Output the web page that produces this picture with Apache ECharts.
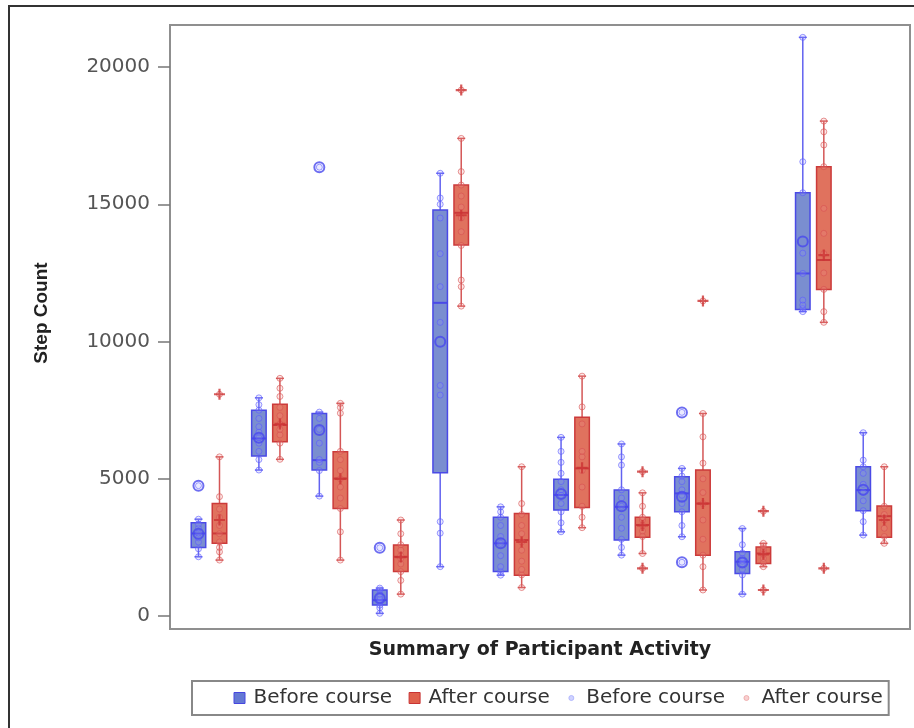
<!DOCTYPE html>
<html>
<head>
<meta charset="utf-8">
<script src="https://cdn.jsdelivr.net/npm/echarts@6/dist/echarts.min.js"></script>
<style>
html, body { margin: 0; padding: 0; background: #fff; }
#chart { width: 914px; height: 728px; }
</style>
</head>
<body>
<div id="chart"></div>
<script>
// one entry per participant group
var groups = [1, 2, 3, 4, 5, 6, 7, 8, 9, 10, 11, 12];

// [low whisker, q1, median, q3, high whisker]
var beforeBox = [
	[2160, 2500, 3010, 3400, 3530],
	[5320, 5830, 6470, 7500, 7950],
	[4370, 5320, 5680, 7380, 7430],
	[100, 400, 580, 950, 1020],
	[1800, 5220, 11410, 14790, 16130],
	[1490, 1620, 2650, 3600, 3980],
	[3070, 3860, 4410, 4980, 6510],
	[2220, 2770, 3980, 4590, 6270],
	[2890, 3800, 4470, 5080, 5380],
	[800, 1550, 1980, 2340, 3190],
	[11090, 11170, 12480, 15420, 21080],
	[2950, 3840, 4590, 5440, 6680]
];
var afterBox = [
	[2040, 2650, 3010, 4100, 5800],
	[5710, 6350, 6960, 7720, 8660],
	[2040, 3920, 5010, 5990, 7750],
	[800, 1620, 2160, 2590, 3500],
	[11290, 13520, 14690, 15700, 17400],
	[1040, 1490, 2770, 3740, 5440],
	[3220, 3960, 5380, 7240, 8740],
	[2280, 2870, 3320, 3600, 4490],
	[950, 2220, 4100, 5320, 7380],
	[1800, 1920, 2280, 2520, 2650],
	[10700, 11900, 12970, 16370, 18030],
	[2650, 2870, 3640, 4010, 5440]
];

var beforeMean = [3000, 6500, 6780, 650, 9990, 2650, 4450, 4000, 4350, 1950, 13640, 4600];
var afterMean = [3500, 7000, 5000, 2150, 14600, 2700, 5400, 3300, 4100, 2250, 13150, 3500];

var beforeOutliers = [[4750], [], [16350], [2490], [], [], [], [], [7420, 1960], [], [], []];
var afterOutliers = [[8080], [], [], [], [19160], [], [], [5260, 1740], [11480], [3820, 950], [1740], []];

var beforePoints = [
	[2160, 2450, 2700, 2850, 3020, 3200, 3350, 3530, 4750],
	[5320, 5700, 6000, 6300, 6500, 6700, 6900, 7200, 7500, 7700, 7950],
	[4370, 5300, 5600, 5700, 6300, 6800, 7200, 7430, 16350],
	[100, 300, 400, 500, 600, 700, 800, 950, 1020, 2490],
	[1800, 3020, 3440, 8050, 8400, 10700, 12000, 13200, 14500, 15000, 15230, 16130],
	[1490, 1620, 1800, 2200, 2650, 2900, 3300, 3600, 3800, 3980],
	[3070, 3400, 3800, 4100, 4400, 4600, 4900, 5200, 5600, 6000, 6510],
	[2220, 2500, 2800, 3200, 3600, 4000, 4300, 4600, 5500, 5800, 6270],
	[1960, 2890, 3300, 3800, 4100, 4400, 4600, 4900, 5100, 5380, 7420],
	[800, 1500, 1700, 1900, 2000, 2100, 2300, 2600, 3190],
	[11090, 11200, 11330, 11510, 12480, 13220, 15420, 16550, 21080],
	[2950, 3440, 3840, 4200, 4500, 4800, 5200, 5440, 5680, 6680]
];
var afterPoints = [
	[2040, 2340, 2500, 2700, 3000, 3300, 3600, 3900, 4350, 5800, 8080],
	[5710, 6300, 6600, 6800, 7000, 7300, 7600, 8000, 8300, 8660],
	[2040, 3070, 3920, 4300, 4700, 5000, 5300, 5700, 6000, 7390, 7600, 7750],
	[800, 1300, 1620, 1900, 2100, 2200, 2400, 2600, 3000, 3500],
	[11290, 12000, 12240, 13500, 14000, 14500, 14900, 15300, 15700, 16190, 17400, 19160],
	[1040, 1500, 1700, 2000, 2400, 2700, 3000, 3300, 3700, 4100, 5440],
	[3220, 3600, 4000, 4700, 5300, 5800, 6000, 7000, 7620, 8740],
	[1740, 2280, 2900, 3100, 3300, 3500, 3600, 4000, 4490, 5260],
	[950, 1800, 2220, 2800, 3500, 4100, 4500, 5000, 5570, 6530, 7380, 11480],
	[950, 1800, 1950, 2100, 2250, 2350, 2450, 2550, 2650, 3820],
	[1740, 10700, 11090, 11900, 12500, 13200, 13940, 14850, 16370, 17160, 17640, 18030],
	[2650, 2900, 3200, 3500, 3700, 4000, 5440]
];

var yTicks = [0, 5000, 10000, 15000, 20000];
var legendLabels = ['Before course', 'After course', 'Before course', 'After course'];
var xTitle = 'Summary of Participant Activity';
var yTitle = 'Step Count';

var offBefore = -0.174, offAfter = 0.174, boxWidth = 0.24;
var plusSymbol = 'path://M4,0H6V4H10V6H6V10H4V6H0V4H4Z';

function boxData(list, off) {
	var out = [];
	for (var i = 0; i < list.length; i++) {
		out.push([groups[i] + off].concat(list[i]));
	}
	return out;
}

function pointData(lists, off) {
	var out = [];
	for (var i = 0; i < lists.length; i++) {
		for (var j = 0; j < lists[i].length; j++) {
			out.push([groups[i] + off, lists[i][j]]);
		}
	}
	return out;
}

function meanData(list, off) {
	var out = [];
	for (var i = 0; i < list.length; i++) out.push([groups[i] + off, list[i]]);
	return out;
}

function drawBox(fill, stroke, whisker) {
	return function(params, api) {
		var x = api.value(0);
		var low = api.coord([x, api.value(1)]);
		var q1 = api.coord([x, api.value(2)]);
		var med = api.coord([x, api.value(3)]);
		var q3 = api.coord([x, api.value(4)]);
		var high = api.coord([x, api.value(5)]);
		var w = api.size([boxWidth, 0])[0];
		var cx = low[0];
		var cap = 4;
		var ws = { stroke: whisker, lineWidth: 1.5 };
		return {
			type: 'group',
			children: [
				{ type: 'line', shape: { x1: cx, y1: high[1], x2: cx, y2: q3[1] }, style: ws },
				{ type: 'line', shape: { x1: cx, y1: q1[1], x2: cx, y2: low[1] }, style: ws },
				{ type: 'line', shape: { x1: cx - cap, y1: high[1], x2: cx + cap, y2: high[1] }, style: ws },
				{ type: 'line', shape: { x1: cx - cap, y1: low[1], x2: cx + cap, y2: low[1] }, style: ws },
				{ type: 'rect', shape: { x: cx - w / 2, y: q3[1], width: w, height: q1[1] - q3[1] },
					style: { fill: fill, stroke: stroke, lineWidth: 1.5 } },
				{ type: 'line', shape: { x1: cx - w / 2, y1: med[1], x2: cx + w / 2, y2: med[1] },
					style: { stroke: stroke, lineWidth: 2 } }
			]
		};
	};
}

var squareIcon = 'path://M0,0M20,12M5.5,0.5L16.5,0.5L16.5,11.5L5.5,11.5Z';
var dotIcon = 'path://M0,0M20,12M10,3.5A2.5,2.5,0,1,1,10,8.5A2.5,2.5,0,1,1,10,3.5Z';

var chart = echarts.init(document.getElementById('chart'));

chart.setOption({
	animation: false,
	backgroundColor: '#fff',
	grid: { left: 170, top: 25, right: 4, bottom: 99, show: true, borderColor: '#8f8f8f', borderWidth: 2 },
	xAxis: {
		type: 'value', min: 0.355, max: 12.6,
		axisLine: { show: false }, axisTick: { show: false }, axisLabel: { show: false }, splitLine: { show: false },
		name: xTitle, nameLocation: 'middle', nameGap: 12,
		nameTextStyle: { fontFamily: 'DejaVu Sans', fontWeight: 'bold', fontSize: 19, color: '#222' }
	},
	yAxis: {
		type: 'value', min: -470, max: 21530,
		axisLine: { show: false }, splitLine: { show: false },
		axisTick: { show: true, length: 12, customValues: yTicks, lineStyle: { color: '#777', width: 1.5 } },
		axisLabel: {
			customValues: yTicks, margin: 20, color: '#555', fontFamily: 'DejaVu Sans', fontSize: 20,
			formatter: function(v) { return String(v); }
		}
	},
	legend: {
		left: 192, top: 681, padding: [7, 6, 7, 36], itemGap: 11, itemWidth: 20, itemHeight: 12,
		borderColor: '#888', borderWidth: 2, selectedMode: false,
		textStyle: { fontFamily: 'DejaVu Sans', fontSize: 20, color: '#333' },
		formatter: function(name) {
			return legendLabels[['boxBefore', 'boxAfter', 'ptsBefore', 'ptsAfter'].indexOf(name)];
		},
		data: [
			{ name: 'boxBefore', icon: squareIcon, itemStyle: { color: '#6478d4', borderColor: '#4646e0', borderWidth: 1 } },
			{ name: 'boxAfter', icon: squareIcon, itemStyle: { color: '#e0604c', borderColor: '#c83434', borderWidth: 1 } },
			{ name: 'ptsBefore', icon: dotIcon, itemStyle: { color: '#c4c8ff', borderColor: '#a8aefc', borderWidth: 1 } },
			{ name: 'ptsAfter', icon: dotIcon, itemStyle: { color: '#f6c4c4', borderColor: '#eca4a4', borderWidth: 1 } }
		]
	},
	graphic: [
		{ type: 'rect', shape: { x: 9, y: 6, width: 1000, height: 1000 }, style: { fill: 'none', stroke: '#333', lineWidth: 2 }, silent: true },
		{ type: 'text', x: 42, y: 313, rotation: Math.PI / 2,
			style: { text: yTitle, font: 'bold 19px "Liberation Sans"', fill: '#222', align: 'center', verticalAlign: 'middle' } }
	],
	series: [
		{ name: 'boxBefore', type: 'custom', renderItem: drawBox('#7a8ed0', '#4a4ae6', '#6262f0'),
			encode: { x: 0, y: [1, 2, 3, 4, 5] }, data: boxData(beforeBox, offBefore), z: 2 },
		{ name: 'boxAfter', type: 'custom', renderItem: drawBox('#e0725e', '#cc3a3a', '#d45656'),
			encode: { x: 0, y: [1, 2, 3, 4, 5] }, data: boxData(afterBox, offAfter), z: 2 },
		{ name: 'ptsBefore', type: 'scatter', symbol: 'circle', symbolSize: 6, z: 3,
			itemStyle: { color: 'rgba(150,150,255,0.25)', borderColor: 'rgba(90,90,255,0.75)', borderWidth: 1 },
			data: pointData(beforePoints, offBefore) },
		{ name: 'ptsAfter', type: 'scatter', symbol: 'circle', symbolSize: 6, z: 3,
			itemStyle: { color: 'rgba(240,150,150,0.25)', borderColor: 'rgba(215,80,80,0.75)', borderWidth: 1 },
			data: pointData(afterPoints, offAfter) },
		{ name: 'meanBefore', type: 'scatter', symbol: 'circle', symbolSize: 10, z: 4,
			itemStyle: { color: 'rgba(0,0,0,0)', borderColor: '#4848ee', borderWidth: 2 },
			data: meanData(beforeMean, offBefore) },
		{ name: 'meanAfter', type: 'scatter', symbol: plusSymbol, symbolSize: 11, z: 4,
			itemStyle: { color: '#cc3333' },
			data: meanData(afterMean, offAfter) },
		{ name: 'outBefore', type: 'scatter', symbol: 'circle', symbolSize: 10, z: 4,
			itemStyle: { color: 'rgba(0,0,0,0)', borderColor: '#4848ee', borderWidth: 2 },
			data: pointData(beforeOutliers, offBefore) },
		{ name: 'outAfter', type: 'scatter', symbol: plusSymbol, symbolSize: 11, z: 4,
			itemStyle: { color: '#cc3333' },
			data: pointData(afterOutliers, offAfter) }
	]
});
</script>
</body>
</html>
